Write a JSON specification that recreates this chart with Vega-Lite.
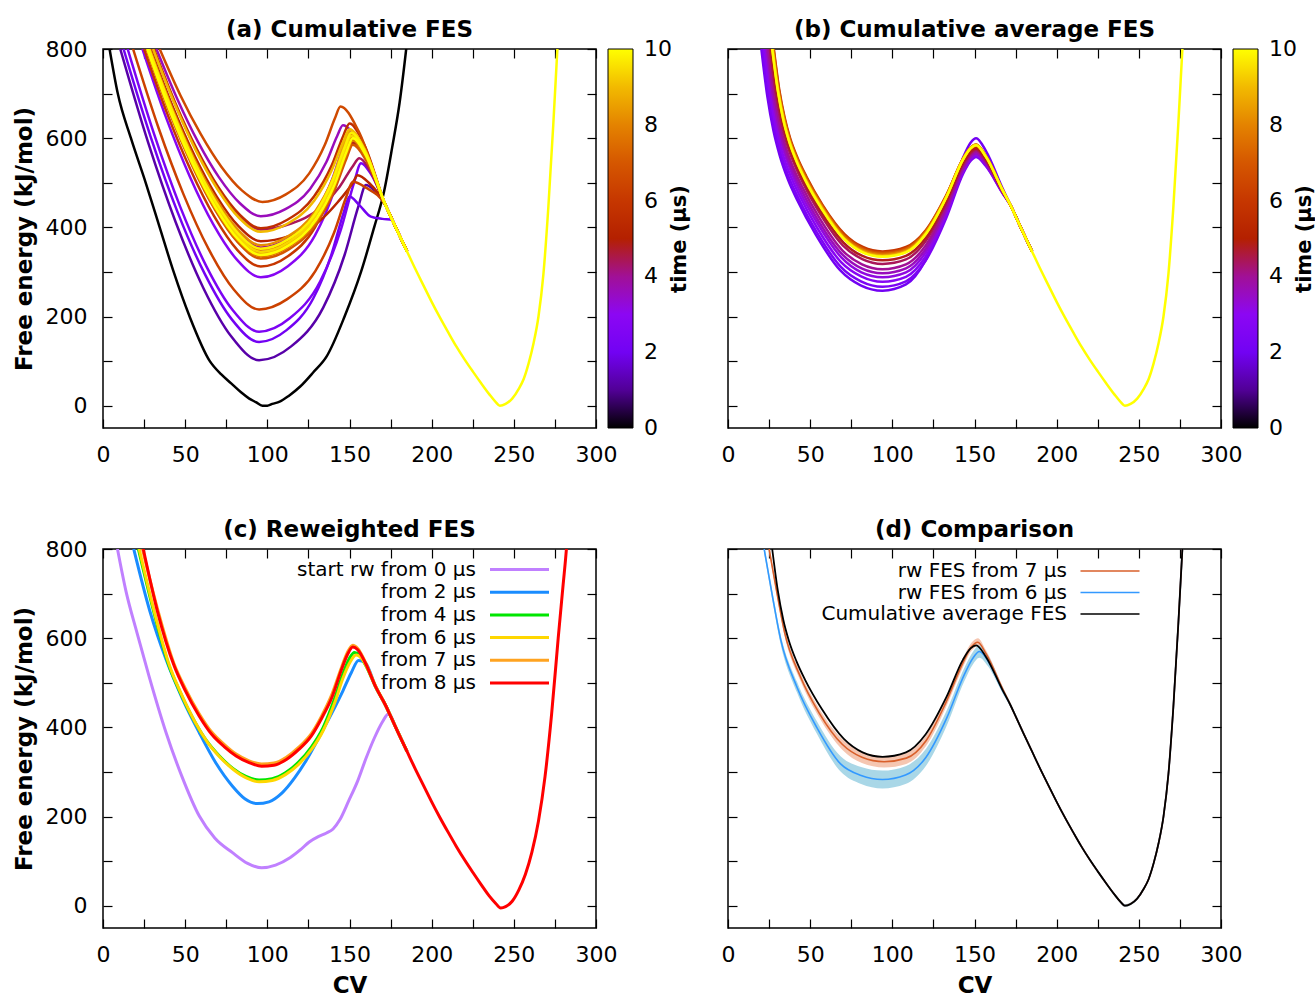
{
  "$schema": "https://vega.github.io/schema/vega-lite/v6.json",
  "background": "white",
  "padding": {"left": 12, "top": 18, "right": 0, "bottom": 0},
  "config": {
    "font": "DejaVu Sans",
    "view": {"stroke": "black", "strokeWidth": 1.5},
    "axis": {"domain": false, "grid": false, "tickColor": "black", "tickSize": -9, "tickWidth": 1.2, "labelFont": "DejaVu Sans", "labelFontSize": 22, "labelColor": "black", "labelFlush": false, "labelOverlap": false, "labelPadding": 25, "titleFont": "DejaVu Sans", "titleFontSize": 23, "titleFontWeight": "bold", "titleColor": "black", "titlePadding": 9},
    "title": {"font": "DejaVu Sans", "fontSize": 23, "fontWeight": "bold", "color": "black", "frame": "group"},
    "legend": {"labelFont": "DejaVu Sans", "titleFont": "DejaVu Sans", "labelColor": "black", "titleColor": "black"}
  },
  "datasets": {
    "a": [
      {"t":0,"x":4,"y":800},{"t":0,"x":9,"y":700},{"t":0,"x":17,"y":600},{"t":0,"x":26,"y":500},{"t":0,"x":34.5,"y":400},{"t":0,"x":43,"y":300},{"t":0,"x":52.7,"y":200},{"t":0,"x":65,"y":100},{"t":0,"x":72,"y":70},{"t":0,"x":78,"y":50},{"t":0,"x":84,"y":30},{"t":0,"x":89,"y":16},{"t":0,"x":93,"y":8},{"t":0,"x":97,"y":0},{"t":0,"x":100,"y":0},{"t":0,"x":103,"y":4},{"t":0,"x":107.5,"y":9},{"t":0,"x":113,"y":22},{"t":0,"x":120,"y":43},{"t":0,"x":128,"y":75},{"t":0,"x":136,"y":110},{"t":0,"x":147,"y":200},{"t":0,"x":157,"y":300},{"t":0,"x":165,"y":400},{"t":0,"x":171,"y":480},{"t":0,"x":176,"y":580},{"t":0,"x":180.5,"y":680},{"t":0,"x":184.5,"y":800},{"t":0,"x":186,"y":850},
      {"t":1.2,"x":10.5,"y":800},{"t":1.2,"x":27.4,"y":591},{"t":1.2,"x":44.3,"y":411},{"t":1.2,"x":61.2,"y":263},{"t":1.2,"x":78.1,"y":155},{"t":1.2,"x":95,"y":102},{"t":1.2,"x":114.5,"y":133},{"t":1.2,"x":134,"y":220},{"t":1.2,"x":147,"y":338},{"t":1.2,"x":155.5,"y":448},{"t":1.2,"x":160,"y":495},{"t":1.2,"x":164.8,"y":484},{"t":1.2,"x":172,"y":449},{"t":1.2,"x":178,"y":401},{"t":1.2,"x":185,"y":346},
      {"t":2,"x":12.5,"y":800},{"t":2,"x":29,"y":603},{"t":2,"x":45.5,"y":433},{"t":2,"x":62,"y":295},{"t":2,"x":78.5,"y":193},{"t":2,"x":95,"y":143},{"t":2,"x":111.5,"y":169},{"t":2,"x":128,"y":241},{"t":2,"x":139,"y":339},{"t":2,"x":146.2,"y":430},{"t":2,"x":150,"y":469},{"t":2,"x":156,"y":450},{"t":2,"x":163,"y":424},{"t":2,"x":170,"y":419},{"t":2,"x":176,"y":417},{"t":2,"x":178,"y":401},{"t":2,"x":185,"y":346},
      {"t":2.4,"x":15,"y":800},{"t":2.4,"x":31,"y":610},{"t":2.4,"x":47,"y":446},{"t":2.4,"x":63,"y":312},{"t":2.4,"x":79,"y":214},{"t":2.4,"x":95,"y":166},{"t":2.4,"x":113.6,"y":196},{"t":2.4,"x":132.2,"y":279},{"t":2.4,"x":144.6,"y":393},{"t":2.4,"x":152.7,"y":499},{"t":2.4,"x":157,"y":544},{"t":2.4,"x":163,"y":520},{"t":2.4,"x":172,"y":449},{"t":2.4,"x":178,"y":401},{"t":2.4,"x":185,"y":346},
      {"t":2.8,"x":24,"y":800},{"t":2.8,"x":38.4,"y":646},{"t":2.8,"x":52.8,"y":514},{"t":2.8,"x":67.2,"y":406},{"t":2.8,"x":81.6,"y":327},{"t":2.8,"x":96,"y":288},{"t":2.8,"x":112.5,"y":313},{"t":2.8,"x":129,"y":382},{"t":2.8,"x":140,"y":475},{"t":2.8,"x":147.2,"y":563},{"t":2.8,"x":151,"y":600},{"t":2.8,"x":159.4,"y":562},{"t":2.8,"x":172,"y":449},{"t":2.8,"x":178,"y":401},{"t":2.8,"x":185,"y":346},
      {"t":3.2,"x":27,"y":800},{"t":3.2,"x":40.8,"y":664},{"t":3.2,"x":54.6,"y":546},{"t":3.2,"x":68.4,"y":450},{"t":3.2,"x":82.2,"y":380},{"t":3.2,"x":96,"y":345},{"t":3.2,"x":112.2,"y":366},{"t":3.2,"x":128.4,"y":425},{"t":3.2,"x":139.2,"y":505},{"t":3.2,"x":146.2,"y":580},{"t":3.2,"x":150,"y":612},{"t":3.2,"x":158.8,"y":571},{"t":3.2,"x":172,"y":449},{"t":3.2,"x":178,"y":401},{"t":3.2,"x":185,"y":346},
      {"t":3.6,"x":32.5,"y":800},{"t":3.6,"x":45.2,"y":688},{"t":3.6,"x":57.9,"y":591},{"t":3.6,"x":70.6,"y":512},{"t":3.6,"x":83.3,"y":454},{"t":3.6,"x":96,"y":425},{"t":3.6,"x":111,"y":441},{"t":3.6,"x":126,"y":486},{"t":3.6,"x":136,"y":547},{"t":3.6,"x":142.5,"y":605},{"t":3.6,"x":146,"y":629},{"t":3.6,"x":156.4,"y":584},{"t":3.6,"x":172,"y":449},{"t":3.6,"x":178,"y":401},{"t":3.6,"x":185,"y":346},
      {"t":4,"x":28,"y":800},{"t":4,"x":41.6,"y":667},{"t":4,"x":55.2,"y":552},{"t":4,"x":68.8,"y":458},{"t":4,"x":82.4,"y":389},{"t":4,"x":96,"y":355},{"t":4,"x":112.5,"y":375},{"t":4,"x":129,"y":429},{"t":4,"x":140,"y":502},{"t":4,"x":147.2,"y":571},{"t":4,"x":151,"y":600},{"t":4,"x":159.4,"y":562},{"t":4,"x":172,"y":449},{"t":4,"x":178,"y":401},{"t":4,"x":185,"y":346},
      {"t":4.4,"x":30.5,"y":800},{"t":4.4,"x":43.6,"y":679},{"t":4.4,"x":56.7,"y":574},{"t":4.4,"x":69.8,"y":489},{"t":4.4,"x":82.9,"y":426},{"t":4.4,"x":96,"y":395},{"t":4.4,"x":114,"y":408},{"t":4.4,"x":132,"y":443},{"t":4.4,"x":144,"y":491},{"t":4.4,"x":151.8,"y":536},{"t":4.4,"x":156,"y":555},{"t":4.4,"x":162.4,"y":528},{"t":4.4,"x":172,"y":449},{"t":4.4,"x":178,"y":401},{"t":4.4,"x":185,"y":346},
      {"t":4.8,"x":27,"y":800},{"t":4.8,"x":40.8,"y":662},{"t":4.8,"x":54.6,"y":543},{"t":4.8,"x":68.4,"y":446},{"t":4.8,"x":82.2,"y":375},{"t":4.8,"x":96,"y":340},{"t":4.8,"x":112.8,"y":360},{"t":4.8,"x":129.6,"y":415},{"t":4.8,"x":140.8,"y":490},{"t":4.8,"x":148.1,"y":560},{"t":4.8,"x":152,"y":590},{"t":4.8,"x":160,"y":555},{"t":4.8,"x":172,"y":449},{"t":4.8,"x":178,"y":401},{"t":4.8,"x":185,"y":346},
      {"t":5.2,"x":29,"y":800},{"t":5.2,"x":42.4,"y":671},{"t":5.2,"x":55.8,"y":560},{"t":5.2,"x":69.2,"y":469},{"t":5.2,"x":82.6,"y":402},{"t":5.2,"x":96,"y":369},{"t":5.2,"x":113.7,"y":381},{"t":5.2,"x":131.4,"y":413},{"t":5.2,"x":143.2,"y":458},{"t":5.2,"x":151.9,"y":499},{"t":5.2,"x":155,"y":517},{"t":5.2,"x":161.8,"y":500},{"t":5.2,"x":172,"y":449},{"t":5.2,"x":178,"y":401},{"t":5.2,"x":185,"y":346},
      {"t":5.6,"x":31,"y":800},{"t":5.6,"x":44,"y":679},{"t":5.6,"x":57,"y":576},{"t":5.6,"x":70,"y":491},{"t":5.6,"x":83,"y":429},{"t":5.6,"x":96,"y":398},{"t":5.6,"x":112.2,"y":417},{"t":5.6,"x":128.4,"y":469},{"t":5.6,"x":139.2,"y":539},{"t":5.6,"x":146.2,"y":605},{"t":5.6,"x":150,"y":633},{"t":5.6,"x":158.8,"y":587},{"t":5.6,"x":172,"y":449},{"t":5.6,"x":178,"y":401},{"t":5.6,"x":185,"y":346},
      {"t":6,"x":25,"y":800},{"t":6,"x":39.2,"y":654},{"t":6,"x":53.4,"y":528},{"t":6,"x":67.6,"y":425},{"t":6,"x":81.8,"y":349},{"t":6,"x":96,"y":312},{"t":6,"x":112.5,"y":335},{"t":6,"x":129,"y":400},{"t":6,"x":140,"y":488},{"t":6,"x":147.2,"y":570},{"t":6,"x":151,"y":605},{"t":6,"x":159.4,"y":566},{"t":6,"x":172,"y":449},{"t":6,"x":178,"y":401},{"t":6,"x":185,"y":346},
      {"t":6.3,"x":18.3,"y":800},{"t":6.3,"x":33.6,"y":625},{"t":6.3,"x":49,"y":474},{"t":6.3,"x":64.3,"y":351},{"t":6.3,"x":79.7,"y":260},{"t":6.3,"x":95,"y":216},{"t":6.3,"x":112.1,"y":239},{"t":6.3,"x":129.2,"y":302},{"t":6.3,"x":140.6,"y":388},{"t":6.3,"x":148,"y":468},{"t":6.3,"x":152,"y":502},{"t":6.3,"x":160,"y":489},{"t":6.3,"x":172,"y":449},{"t":6.3,"x":178,"y":401},{"t":6.3,"x":185,"y":346},
      {"t":6.6,"x":34.5,"y":800},{"t":6.6,"x":47,"y":697},{"t":6.6,"x":59.5,"y":609},{"t":6.6,"x":72,"y":536},{"t":6.6,"x":84.5,"y":483},{"t":6.6,"x":97,"y":457},{"t":6.6,"x":111.3,"y":474},{"t":6.6,"x":125.5,"y":521},{"t":6.6,"x":135,"y":585},{"t":6.6,"x":141.2,"y":645},{"t":6.6,"x":144.5,"y":671},{"t":6.6,"x":155.5,"y":616},{"t":6.6,"x":172,"y":449},{"t":6.6,"x":178,"y":401},{"t":6.6,"x":185,"y":346},
      {"t":7,"x":26.5,"y":800},{"t":7,"x":40.4,"y":659},{"t":7,"x":54.3,"y":538},{"t":7,"x":68.2,"y":439},{"t":7,"x":82.1,"y":366},{"t":7,"x":96,"y":330},{"t":7,"x":112.8,"y":350},{"t":7,"x":129.6,"y":407},{"t":7,"x":140.8,"y":483},{"t":7,"x":148.1,"y":554},{"t":7,"x":152,"y":585},{"t":7,"x":160,"y":551},{"t":7,"x":172,"y":449},{"t":7,"x":178,"y":401},{"t":7,"x":185,"y":346},
      {"t":7.4,"x":27.5,"y":800},{"t":7.4,"x":41.2,"y":665},{"t":7.4,"x":54.9,"y":549},{"t":7.4,"x":68.6,"y":454},{"t":7.4,"x":82.3,"y":384},{"t":7.4,"x":96,"y":350},{"t":7.4,"x":112.5,"y":370},{"t":7.4,"x":129,"y":425},{"t":7.4,"x":140,"y":500},{"t":7.4,"x":147.2,"y":570},{"t":7.4,"x":151,"y":600},{"t":7.4,"x":159.4,"y":562},{"t":7.4,"x":172,"y":449},{"t":7.4,"x":178,"y":401},{"t":7.4,"x":185,"y":346},
      {"t":7.8,"x":26.8,"y":800},{"t":7.8,"x":40.6,"y":660},{"t":7.8,"x":54.5,"y":540},{"t":7.8,"x":68.3,"y":442},{"t":7.8,"x":82.2,"y":370},{"t":7.8,"x":96,"y":335},{"t":7.8,"x":112.8,"y":356},{"t":7.8,"x":129.6,"y":413},{"t":7.8,"x":140.8,"y":491},{"t":7.8,"x":148.1,"y":564},{"t":7.8,"x":152,"y":595},{"t":7.8,"x":160,"y":559},{"t":7.8,"x":172,"y":449},{"t":7.8,"x":178,"y":401},{"t":7.8,"x":185,"y":346},
      {"t":8.2,"x":28.5,"y":800},{"t":8.2,"x":42,"y":668},{"t":8.2,"x":55.5,"y":554},{"t":8.2,"x":69,"y":462},{"t":8.2,"x":82.5,"y":393},{"t":8.2,"x":96,"y":360},{"t":8.2,"x":112.5,"y":380},{"t":8.2,"x":129,"y":435},{"t":8.2,"x":140,"y":510},{"t":8.2,"x":147.2,"y":580},{"t":8.2,"x":151,"y":610},{"t":8.2,"x":159.4,"y":570},{"t":8.2,"x":172,"y":449},{"t":8.2,"x":178,"y":401},{"t":8.2,"x":185,"y":346},
      {"t":8.6,"x":27,"y":800},{"t":8.6,"x":40.8,"y":662},{"t":8.6,"x":54.6,"y":543},{"t":8.6,"x":68.4,"y":446},{"t":8.6,"x":82.2,"y":375},{"t":8.6,"x":96,"y":340},{"t":8.6,"x":112.4,"y":362},{"t":8.6,"x":128.7,"y":423},{"t":8.6,"x":139.6,"y":507},{"t":8.6,"x":146.7,"y":585},{"t":8.6,"x":150.5,"y":618},{"t":8.6,"x":159.1,"y":576},{"t":8.6,"x":172,"y":449},{"t":8.6,"x":178,"y":401},{"t":8.6,"x":185,"y":346},
      {"t":9,"x":30.5,"y":800},{"t":9,"x":43.6,"y":677},{"t":9,"x":56.7,"y":571},{"t":9,"x":69.8,"y":485},{"t":9,"x":82.9,"y":421},{"t":9,"x":96,"y":390},{"t":9,"x":112.2,"y":408},{"t":9,"x":128.4,"y":459},{"t":9,"x":139.2,"y":528},{"t":9,"x":146.2,"y":592},{"t":9,"x":150,"y":620},{"t":9,"x":158.8,"y":577},{"t":9,"x":172,"y":449},{"t":9,"x":178,"y":401},{"t":9,"x":185,"y":346},
      {"t":9.4,"x":27.5,"y":800},{"t":9.4,"x":41.2,"y":664},{"t":9.4,"x":54.9,"y":546},{"t":9.4,"x":68.6,"y":450},{"t":9.4,"x":82.3,"y":380},{"t":9.4,"x":96,"y":345},{"t":9.4,"x":112.5,"y":366},{"t":9.4,"x":129,"y":423},{"t":9.4,"x":140,"y":501},{"t":9.4,"x":147.2,"y":574},{"t":9.4,"x":151,"y":605},{"t":9.4,"x":159.4,"y":566},{"t":9.4,"x":172,"y":449},{"t":9.4,"x":178,"y":401},{"t":9.4,"x":185,"y":346},
      {"t":9.8,"x":28,"y":800},{"t":9.8,"x":41.6,"y":666},{"t":9.8,"x":55.2,"y":550},{"t":9.8,"x":68.8,"y":456},{"t":9.8,"x":82.4,"y":386},{"t":9.8,"x":96,"y":352},{"t":9.8,"x":112.5,"y":373},{"t":9.8,"x":129,"y":430},{"t":9.8,"x":140,"y":508},{"t":9.8,"x":147.2,"y":581},{"t":9.8,"x":151,"y":612},{"t":9.8,"x":159.4,"y":571},{"t":9.8,"x":172,"y":449},{"t":9.8,"x":178,"y":401},{"t":9.8,"x":185,"y":346},
      {"t":10,"x":27,"y":800},{"t":10,"x":40.8,"y":661},{"t":10,"x":54.6,"y":542},{"t":10,"x":68.4,"y":445},{"t":10,"x":82.2,"y":373},{"t":10,"x":96,"y":338},{"t":10,"x":112.8,"y":359},{"t":10,"x":129.6,"y":417},{"t":10,"x":140.8,"y":495},{"t":10,"x":148.1,"y":569},{"t":10,"x":152,"y":600},{"t":10,"x":160,"y":562},{"t":10,"x":172,"y":449},{"t":10,"x":175,"y":425},{"t":10,"x":180,"y":385},{"t":10,"x":185,"y":346},{"t":10,"x":190,"y":307},{"t":10,"x":195,"y":270},{"t":10,"x":200,"y":233},{"t":10,"x":205,"y":198},{"t":10,"x":210,"y":165},{"t":10,"x":215,"y":133},{"t":10,"x":220,"y":104},{"t":10,"x":225,"y":77},{"t":10,"x":230,"y":51},{"t":10,"x":235,"y":26},{"t":10,"x":239,"y":8},{"t":10,"x":241.5,"y":0},{"t":10,"x":245,"y":4},{"t":10,"x":249,"y":16},{"t":10,"x":253,"y":38},{"t":10,"x":256,"y":60},{"t":10,"x":259,"y":95},{"t":10,"x":262,"y":140},{"t":10,"x":265,"y":200},{"t":10,"x":268,"y":295},{"t":10,"x":271,"y":445},{"t":10,"x":274,"y":630},{"t":10,"x":276.5,"y":800},{"t":10,"x":278,"y":900}
    ],
    "b": [
      {"t":2,"x":20.3,"y":800},{"t":2,"x":24,"y":692},{"t":2,"x":27.7,"y":616},{"t":2,"x":31.4,"y":562},{"t":2,"x":36.5,"y":507},{"t":2,"x":42.4,"y":459},{"t":2,"x":53.5,"y":383},{"t":2,"x":68.2,"y":304},{"t":2,"x":80.7,"y":270},{"t":2,"x":94,"y":258},{"t":2,"x":108.3,"y":272},{"t":2,"x":120.2,"y":326},{"t":2,"x":132.8,"y":439},{"t":2,"x":143,"y":556},{"t":2,"x":147.6,"y":590},{"t":2,"x":151,"y":600},{"t":2,"x":157,"y":571},{"t":2,"x":167,"y":488},{"t":2,"x":172,"y":449},{"t":2,"x":178,"y":401},{"t":2,"x":185,"y":346},
      {"t":2.4,"x":21.1,"y":800},{"t":2.4,"x":24.7,"y":693},{"t":2.4,"x":28.4,"y":619},{"t":2.4,"x":32,"y":566},{"t":2.4,"x":37.1,"y":512},{"t":2.4,"x":43,"y":464},{"t":2.4,"x":53.9,"y":390},{"t":2.4,"x":68.5,"y":312},{"t":2.4,"x":80.9,"y":279},{"t":2.4,"x":94,"y":267},{"t":2.4,"x":108.3,"y":279},{"t":2.4,"x":120.2,"y":325},{"t":2.4,"x":132.8,"y":421},{"t":2.4,"x":143,"y":520},{"t":2.4,"x":147.6,"y":549},{"t":2.4,"x":151,"y":558},{"t":2.4,"x":157,"y":537},{"t":2.4,"x":167,"y":477},{"t":2.4,"x":172,"y":449},{"t":2.4,"x":178,"y":401},{"t":2.4,"x":185,"y":346},
      {"t":2.8,"x":22,"y":800},{"t":2.8,"x":25.6,"y":696},{"t":2.8,"x":29.2,"y":623},{"t":2.8,"x":32.8,"y":570},{"t":2.8,"x":37.8,"y":518},{"t":2.8,"x":43.6,"y":471},{"t":2.8,"x":54.4,"y":398},{"t":2.8,"x":68.8,"y":322},{"t":2.8,"x":81,"y":290},{"t":2.8,"x":94,"y":278},{"t":2.8,"x":108.3,"y":289},{"t":2.8,"x":120.2,"y":334},{"t":2.8,"x":132.8,"y":428},{"t":2.8,"x":143,"y":523},{"t":2.8,"x":147.6,"y":552},{"t":2.8,"x":151,"y":560},{"t":2.8,"x":157,"y":539},{"t":2.8,"x":167,"y":478},{"t":2.8,"x":172,"y":449},{"t":2.8,"x":178,"y":401},{"t":2.8,"x":185,"y":346},
      {"t":3.2,"x":22.9,"y":800},{"t":3.2,"x":26.5,"y":698},{"t":3.2,"x":30,"y":626},{"t":3.2,"x":33.6,"y":575},{"t":3.2,"x":38.5,"y":524},{"t":3.2,"x":44.2,"y":477},{"t":3.2,"x":54.9,"y":406},{"t":3.2,"x":69.1,"y":332},{"t":3.2,"x":81.2,"y":299},{"t":3.2,"x":94,"y":288},{"t":3.2,"x":108.3,"y":299},{"t":3.2,"x":120.2,"y":343},{"t":3.2,"x":132.8,"y":434},{"t":3.2,"x":143,"y":527},{"t":3.2,"x":147.6,"y":555},{"t":3.2,"x":151,"y":563},{"t":3.2,"x":157,"y":541},{"t":3.2,"x":167,"y":479},{"t":3.2,"x":172,"y":449},{"t":3.2,"x":178,"y":401},{"t":3.2,"x":185,"y":346},
      {"t":3.6,"x":23.7,"y":800},{"t":3.6,"x":27.2,"y":699},{"t":3.6,"x":30.7,"y":629},{"t":3.6,"x":34.2,"y":579},{"t":3.6,"x":39.2,"y":528},{"t":3.6,"x":44.8,"y":483},{"t":3.6,"x":55.3,"y":413},{"t":3.6,"x":69.4,"y":340},{"t":3.6,"x":81.3,"y":308},{"t":3.6,"x":94,"y":297},{"t":3.6,"x":108.3,"y":308},{"t":3.6,"x":120.2,"y":351},{"t":3.6,"x":132.8,"y":440},{"t":3.6,"x":143,"y":531},{"t":3.6,"x":147.6,"y":558},{"t":3.6,"x":151,"y":566},{"t":3.6,"x":157,"y":544},{"t":3.6,"x":167,"y":479},{"t":3.6,"x":172,"y":449},{"t":3.6,"x":178,"y":401},{"t":3.6,"x":185,"y":346},
      {"t":4,"x":24.5,"y":800},{"t":4,"x":28,"y":701},{"t":4,"x":31.5,"y":632},{"t":4,"x":34.9,"y":583},{"t":4,"x":39.8,"y":533},{"t":4,"x":45.4,"y":489},{"t":4,"x":55.8,"y":420},{"t":4,"x":69.7,"y":348},{"t":4,"x":81.5,"y":317},{"t":4,"x":94,"y":306},{"t":4,"x":108.3,"y":317},{"t":4,"x":120.2,"y":359},{"t":4,"x":132.8,"y":446},{"t":4,"x":143,"y":536},{"t":4,"x":147.6,"y":562},{"t":4,"x":151,"y":570},{"t":4,"x":157,"y":547},{"t":4,"x":167,"y":480},{"t":4,"x":172,"y":449},{"t":4,"x":178,"y":401},{"t":4,"x":185,"y":346},
      {"t":4.4,"x":25.5,"y":800},{"t":4.4,"x":28.9,"y":704},{"t":4.4,"x":32.4,"y":636},{"t":4.4,"x":35.8,"y":588},{"t":4.4,"x":40.6,"y":540},{"t":4.4,"x":46.1,"y":496},{"t":4.4,"x":56.3,"y":429},{"t":4.4,"x":70,"y":359},{"t":4.4,"x":81.7,"y":329},{"t":4.4,"x":94,"y":318},{"t":4.4,"x":108.3,"y":328},{"t":4.4,"x":120.2,"y":369},{"t":4.4,"x":132.8,"y":454},{"t":4.4,"x":143,"y":541},{"t":4.4,"x":147.6,"y":566},{"t":4.4,"x":151,"y":574},{"t":4.4,"x":157,"y":550},{"t":4.4,"x":167,"y":482},{"t":4.4,"x":172,"y":449},{"t":4.4,"x":178,"y":401},{"t":4.4,"x":185,"y":346},
      {"t":4.8,"x":26.2,"y":800},{"t":4.8,"x":29.6,"y":705},{"t":4.8,"x":33,"y":639},{"t":4.8,"x":36.4,"y":591},{"t":4.8,"x":41.1,"y":544},{"t":4.8,"x":46.5,"y":501},{"t":4.8,"x":56.7,"y":435},{"t":4.8,"x":70.3,"y":366},{"t":4.8,"x":81.8,"y":336},{"t":4.8,"x":94,"y":326},{"t":4.8,"x":108.3,"y":336},{"t":4.8,"x":120.2,"y":376},{"t":4.8,"x":132.8,"y":459},{"t":4.8,"x":143,"y":544},{"t":4.8,"x":147.6,"y":570},{"t":4.8,"x":151,"y":577},{"t":4.8,"x":157,"y":553},{"t":4.8,"x":167,"y":482},{"t":4.8,"x":172,"y":449},{"t":4.8,"x":178,"y":401},{"t":4.8,"x":185,"y":346},
      {"t":5.4,"x":27.4,"y":800},{"t":5.4,"x":30.7,"y":708},{"t":5.4,"x":34.1,"y":644},{"t":5.4,"x":37.4,"y":598},{"t":5.4,"x":42.1,"y":552},{"t":5.4,"x":47.4,"y":510},{"t":5.4,"x":57.4,"y":446},{"t":5.4,"x":70.7,"y":379},{"t":5.4,"x":82,"y":350},{"t":5.4,"x":94,"y":340},{"t":5.4,"x":108.3,"y":350},{"t":5.4,"x":120.2,"y":388},{"t":5.4,"x":132.8,"y":468},{"t":5.4,"x":143,"y":550},{"t":5.4,"x":147.6,"y":574},{"t":5.4,"x":151,"y":581},{"t":5.4,"x":157,"y":556},{"t":5.4,"x":167,"y":483},{"t":5.4,"x":172,"y":449},{"t":5.4,"x":178,"y":401},{"t":5.4,"x":185,"y":346},
      {"t":6,"x":27.9,"y":800},{"t":6,"x":31.2,"y":709},{"t":6,"x":34.5,"y":646},{"t":6,"x":37.8,"y":600},{"t":6,"x":42.4,"y":555},{"t":6,"x":47.7,"y":514},{"t":6,"x":57.6,"y":450},{"t":6,"x":70.9,"y":385},{"t":6,"x":82.1,"y":356},{"t":6,"x":94,"y":346},{"t":6,"x":108.3,"y":356},{"t":6,"x":120.2,"y":393},{"t":6,"x":132.8,"y":472},{"t":6,"x":143,"y":552},{"t":6,"x":147.6,"y":576},{"t":6,"x":151,"y":583},{"t":6,"x":157,"y":558},{"t":6,"x":167,"y":484},{"t":6,"x":172,"y":449},{"t":6,"x":178,"y":401},{"t":6,"x":185,"y":346},
      {"t":6.8,"x":27.7,"y":800},{"t":6.8,"x":31,"y":709},{"t":6.8,"x":34.3,"y":645},{"t":6.8,"x":37.6,"y":599},{"t":6.8,"x":42.3,"y":553},{"t":6.8,"x":47.6,"y":512},{"t":6.8,"x":57.5,"y":448},{"t":6.8,"x":70.8,"y":382},{"t":6.8,"x":82.1,"y":353},{"t":6.8,"x":94,"y":343},{"t":6.8,"x":108.3,"y":353},{"t":6.8,"x":120.2,"y":391},{"t":6.8,"x":132.8,"y":471},{"t":6.8,"x":143,"y":554},{"t":6.8,"x":147.6,"y":578},{"t":6.8,"x":151,"y":585},{"t":6.8,"x":157,"y":559},{"t":6.8,"x":167,"y":484},{"t":6.8,"x":172,"y":449},{"t":6.8,"x":178,"y":401},{"t":6.8,"x":185,"y":346},
      {"t":7.6,"x":27.4,"y":800},{"t":7.6,"x":30.7,"y":708},{"t":7.6,"x":34.1,"y":644},{"t":7.6,"x":37.4,"y":598},{"t":7.6,"x":42.1,"y":552},{"t":7.6,"x":47.4,"y":510},{"t":7.6,"x":57.4,"y":446},{"t":7.6,"x":70.7,"y":379},{"t":7.6,"x":82,"y":350},{"t":7.6,"x":94,"y":340},{"t":7.6,"x":108.3,"y":350},{"t":7.6,"x":120.2,"y":389},{"t":7.6,"x":132.8,"y":470},{"t":7.6,"x":143,"y":554},{"t":7.6,"x":147.6,"y":579},{"t":7.6,"x":151,"y":586},{"t":7.6,"x":157,"y":560},{"t":7.6,"x":167,"y":485},{"t":7.6,"x":172,"y":449},{"t":7.6,"x":178,"y":401},{"t":7.6,"x":185,"y":346},
      {"t":8.4,"x":27.2,"y":800},{"t":8.4,"x":30.5,"y":707},{"t":8.4,"x":33.9,"y":643},{"t":8.4,"x":37.2,"y":596},{"t":8.4,"x":41.9,"y":550},{"t":8.4,"x":47.2,"y":508},{"t":8.4,"x":57.3,"y":444},{"t":8.4,"x":70.6,"y":376},{"t":8.4,"x":82,"y":347},{"t":8.4,"x":94,"y":337},{"t":8.4,"x":108.3,"y":347},{"t":8.4,"x":120.2,"y":387},{"t":8.4,"x":132.8,"y":468},{"t":8.4,"x":143,"y":553},{"t":8.4,"x":147.6,"y":578},{"t":8.4,"x":151,"y":585},{"t":8.4,"x":157,"y":559},{"t":8.4,"x":167,"y":484},{"t":8.4,"x":172,"y":449},{"t":8.4,"x":178,"y":401},{"t":8.4,"x":185,"y":346},
      {"t":9.2,"x":27,"y":800},{"t":9.2,"x":30.4,"y":707},{"t":9.2,"x":33.7,"y":642},{"t":9.2,"x":37.1,"y":595},{"t":9.2,"x":41.7,"y":549},{"t":9.2,"x":47.1,"y":507},{"t":9.2,"x":57.2,"y":442},{"t":9.2,"x":70.6,"y":375},{"t":9.2,"x":81.9,"y":345},{"t":9.2,"x":94,"y":335},{"t":9.2,"x":108.3,"y":345},{"t":9.2,"x":120.2,"y":385},{"t":9.2,"x":132.8,"y":467},{"t":9.2,"x":143,"y":552},{"t":9.2,"x":147.6,"y":577},{"t":9.2,"x":151,"y":584},{"t":9.2,"x":157,"y":558},{"t":9.2,"x":167,"y":484},{"t":9.2,"x":172,"y":449},{"t":9.2,"x":178,"y":401},{"t":9.2,"x":185,"y":346},
      {"t":10,"x":26.9,"y":800},{"t":10,"x":30.3,"y":707},{"t":10,"x":33.6,"y":642},{"t":10,"x":37,"y":595},{"t":10,"x":41.7,"y":548},{"t":10,"x":47,"y":506},{"t":10,"x":57.1,"y":441},{"t":10,"x":70.5,"y":374},{"t":10,"x":81.9,"y":344},{"t":10,"x":94,"y":334},{"t":10,"x":108.3,"y":344},{"t":10,"x":120.2,"y":384},{"t":10,"x":132.8,"y":467},{"t":10,"x":143,"y":552},{"t":10,"x":147.6,"y":577},{"t":10,"x":151,"y":584},{"t":10,"x":157,"y":558},{"t":10,"x":167,"y":484},{"t":10,"x":172,"y":449},{"t":10,"x":175,"y":425},{"t":10,"x":180,"y":385},{"t":10,"x":185,"y":346},{"t":10,"x":190,"y":307},{"t":10,"x":195,"y":270},{"t":10,"x":200,"y":233},{"t":10,"x":205,"y":198},{"t":10,"x":210,"y":165},{"t":10,"x":215,"y":133},{"t":10,"x":220,"y":104},{"t":10,"x":225,"y":77},{"t":10,"x":230,"y":51},{"t":10,"x":235,"y":26},{"t":10,"x":239,"y":8},{"t":10,"x":241.5,"y":0},{"t":10,"x":245,"y":4},{"t":10,"x":249,"y":16},{"t":10,"x":253,"y":38},{"t":10,"x":256,"y":60},{"t":10,"x":259,"y":95},{"t":10,"x":262,"y":140},{"t":10,"x":265,"y":200},{"t":10,"x":268,"y":295},{"t":10,"x":271,"y":445},{"t":10,"x":274,"y":630},{"t":10,"x":276.5,"y":800},{"t":10,"x":278,"y":900}
    ],
    "c": [
      {"s":"0","x":8.8,"y":800},{"s":"0","x":14,"y":705},{"s":"0","x":20.7,"y":612},{"s":"0","x":28,"y":515},{"s":"0","x":38.4,"y":388},{"s":"0","x":48,"y":290},{"s":"0","x":58.6,"y":201},{"s":"0","x":68,"y":152},{"s":"0","x":78.8,"y":119},{"s":"0","x":88,"y":95},{"s":"0","x":96.5,"y":85},{"s":"0","x":105,"y":91},{"s":"0","x":114,"y":108},{"s":"0","x":120,"y":125},{"s":"0","x":125.5,"y":143},{"s":"0","x":131,"y":155},{"s":"0","x":136,"y":163},{"s":"0","x":140,"y":172},{"s":"0","x":144,"y":192},{"s":"0","x":149.5,"y":235},{"s":"0","x":155,"y":280},{"s":"0","x":160,"y":330},{"s":"0","x":165,"y":375},{"s":"0","x":170,"y":412},{"s":"0","x":174,"y":431},{"s":"0","x":178,"y":401},{"s":"0","x":185,"y":346},
      {"s":"2","x":18.7,"y":800},{"s":"2","x":28.5,"y":661},{"s":"2","x":38.4,"y":552},{"s":"2","x":48.5,"y":463},{"s":"2","x":58.6,"y":388},{"s":"2","x":68.7,"y":320},{"s":"2","x":78.8,"y":268},{"s":"2","x":86.3,"y":240},{"s":"2","x":94,"y":229},{"s":"2","x":101,"y":233},{"s":"2","x":109,"y":253},{"s":"2","x":116.5,"y":286},{"s":"2","x":124,"y":328},{"s":"2","x":131.5,"y":378},{"s":"2","x":139.4,"y":433},{"s":"2","x":146,"y":482},{"s":"2","x":151,"y":522},{"s":"2","x":155.5,"y":550},{"s":"2","x":159.6,"y":545},{"s":"2","x":166,"y":490},{"s":"2","x":172,"y":449},{"s":"2","x":178,"y":401},{"s":"2","x":185,"y":346},
      {"s":"4","x":21.5,"y":800},{"s":"4","x":30,"y":672},{"s":"4","x":40,"y":540},{"s":"4","x":47,"y":478},{"s":"4","x":55.5,"y":415},{"s":"4","x":63,"y":370},{"s":"4","x":71,"y":335},{"s":"4","x":79,"y":308},{"s":"4","x":87,"y":290},{"s":"4","x":95,"y":282},{"s":"4","x":103,"y":285},{"s":"4","x":111,"y":298},{"s":"4","x":119,"y":322},{"s":"4","x":127,"y":357},{"s":"4","x":134,"y":400},{"s":"4","x":141,"y":465},{"s":"4","x":146,"y":520},{"s":"4","x":150,"y":555},{"s":"4","x":153,"y":568},{"s":"4","x":156,"y":562},{"s":"4","x":160,"y":538},{"s":"4","x":166,"y":490},{"s":"4","x":172,"y":449},{"s":"4","x":178,"y":401},{"s":"4","x":185,"y":346},
      {"s":"6","x":22,"y":800},{"s":"6","x":30.5,"y":670},{"s":"6","x":40.5,"y":538},{"s":"6","x":47.5,"y":476},{"s":"6","x":56,"y":412},{"s":"6","x":63.5,"y":367},{"s":"6","x":71.5,"y":332},{"s":"6","x":79.5,"y":305},{"s":"6","x":87.5,"y":286},{"s":"6","x":95,"y":278},{"s":"6","x":103,"y":281},{"s":"6","x":111,"y":294},{"s":"6","x":119,"y":317},{"s":"6","x":127,"y":351},{"s":"6","x":134,"y":393},{"s":"6","x":141,"y":455},{"s":"6","x":146,"y":510},{"s":"6","x":150.5,"y":547},{"s":"6","x":154,"y":562},{"s":"6","x":157,"y":556},{"s":"6","x":161,"y":532},{"s":"6","x":166,"y":490},{"s":"6","x":172,"y":449},{"s":"6","x":178,"y":401},{"s":"6","x":185,"y":346},
      {"s":"7","x":24,"y":800},{"s":"7","x":33,"y":668},{"s":"7","x":43.4,"y":541},{"s":"7","x":50,"y":488},{"s":"7","x":58.6,"y":430},{"s":"7","x":66,"y":390},{"s":"7","x":73.7,"y":362},{"s":"7","x":81,"y":340},{"s":"7","x":88.9,"y":325},{"s":"7","x":96.5,"y":318},{"s":"7","x":104,"y":320},{"s":"7","x":111.6,"y":333},{"s":"7","x":119,"y":355},{"s":"7","x":126.8,"y":386},{"s":"7","x":133,"y":425},{"s":"7","x":139.4,"y":475},{"s":"7","x":145,"y":533},{"s":"7","x":149,"y":570},{"s":"7","x":152,"y":584},{"s":"7","x":155,"y":577},{"s":"7","x":159.6,"y":547},{"s":"7","x":166,"y":492},{"s":"7","x":172,"y":449},{"s":"7","x":178,"y":401},{"s":"7","x":185,"y":346},
      {"s":"8","x":24.5,"y":800},{"s":"8","x":33,"y":662},{"s":"8","x":43.4,"y":537},{"s":"8","x":50,"y":483},{"s":"8","x":58.6,"y":425},{"s":"8","x":66,"y":385},{"s":"8","x":73.7,"y":357},{"s":"8","x":81,"y":336},{"s":"8","x":88.9,"y":321},{"s":"8","x":96.5,"y":313},{"s":"8","x":104,"y":315},{"s":"8","x":111.6,"y":328},{"s":"8","x":119,"y":350},{"s":"8","x":126.8,"y":381},{"s":"8","x":133,"y":420},{"s":"8","x":139.4,"y":468},{"s":"8","x":145,"y":528},{"s":"8","x":149,"y":565},{"s":"8","x":152,"y":580},{"s":"8","x":155,"y":574},{"s":"8","x":159.6,"y":545},{"s":"8","x":166,"y":490},{"s":"8","x":172,"y":449},{"s":"8","x":175,"y":425},{"s":"8","x":180,"y":385},{"s":"8","x":185,"y":346},{"s":"8","x":190,"y":307},{"s":"8","x":195,"y":270},{"s":"8","x":200,"y":233},{"s":"8","x":205,"y":198},{"s":"8","x":210,"y":165},{"s":"8","x":215,"y":133},{"s":"8","x":220,"y":103},{"s":"8","x":225,"y":75},{"s":"8","x":230,"y":48},{"s":"8","x":235,"y":22},{"s":"8","x":239,"y":5},{"s":"8","x":242,"y":-5},{"s":"8","x":245,"y":-2},{"s":"8","x":249,"y":10},{"s":"8","x":253,"y":35},{"s":"8","x":257,"y":70},{"s":"8","x":261,"y":120},{"s":"8","x":265,"y":190},{"s":"8","x":269,"y":290},{"s":"8","x":273,"y":430},{"s":"8","x":277,"y":600},{"s":"8","x":280,"y":720},{"s":"8","x":282,"y":800},{"s":"8","x":283.5,"y":880}
    ],
    "d": [
      {"s":"7","x":25,"y":800,"lo":792,"hi":808},{"s":"7","x":29.5,"y":707,"lo":700,"hi":714},{"s":"7","x":34.5,"y":612,"lo":604,"hi":620},{"s":"7","x":44,"y":514,"lo":505,"hi":523},{"s":"7","x":55.5,"y":432,"lo":422,"hi":442},{"s":"7","x":69.5,"y":362,"lo":350,"hi":374},{"s":"7","x":81.5,"y":333,"lo":320,"hi":346},{"s":"7","x":95,"y":323,"lo":310,"hi":336},{"s":"7","x":108.5,"y":331,"lo":318,"hi":344},{"s":"7","x":120.5,"y":370,"lo":358,"hi":382},{"s":"7","x":132.5,"y":455,"lo":444,"hi":466},{"s":"7","x":143,"y":545,"lo":535,"hi":555},{"s":"7","x":148,"y":580,"lo":571,"hi":589},{"s":"7","x":152,"y":591,"lo":582,"hi":600},{"s":"7","x":157,"y":565,"lo":557,"hi":573},{"s":"7","x":167,"y":487,"lo":481,"hi":493},{"s":"7","x":172,"y":449,"lo":444,"hi":454},{"s":"7","x":178,"y":401,"lo":397,"hi":405},{"s":"7","x":185,"y":346,"lo":343,"hi":349},{"s":"7","x":190,"y":307,"lo":304,"hi":310},{"s":"7","x":200,"y":233,"lo":230,"hi":236},{"s":"7","x":210,"y":165,"lo":162,"hi":168},{"s":"7","x":220,"y":104,"lo":101,"hi":107},{"s":"7","x":230,"y":51,"lo":48,"hi":54},{"s":"7","x":235,"y":26,"lo":23,"hi":29},{"s":"7","x":239,"y":8,"lo":5,"hi":11},{"s":"7","x":241.5,"y":0,"lo":-3,"hi":3},{"s":"7","x":245,"y":4,"lo":1,"hi":7},{"s":"7","x":249,"y":16,"lo":13,"hi":19},{"s":"7","x":253,"y":38,"lo":35,"hi":41},{"s":"7","x":256,"y":60,"lo":57,"hi":63},{"s":"7","x":259,"y":95,"lo":92,"hi":98},{"s":"7","x":262,"y":140,"lo":137,"hi":143},{"s":"7","x":265,"y":200,"lo":197,"hi":203},{"s":"7","x":268,"y":295,"lo":292,"hi":298},{"s":"7","x":271,"y":445,"lo":442,"hi":448},{"s":"7","x":274,"y":630,"lo":627,"hi":633},{"s":"7","x":276.5,"y":800,"lo":797,"hi":803},{"s":"7","x":278,"y":900,"lo":897,"hi":903},
      {"s":"6","x":22,"y":800,"lo":791,"hi":809},{"s":"6","x":27,"y":695,"lo":685,"hi":705},{"s":"6","x":32,"y":598,"lo":587,"hi":609},{"s":"6","x":42,"y":490,"lo":478,"hi":502},{"s":"6","x":54,"y":400,"lo":386,"hi":414},{"s":"6","x":68.5,"y":318,"lo":301,"hi":335},{"s":"6","x":81,"y":292,"lo":273,"hi":311},{"s":"6","x":94,"y":283,"lo":263,"hi":303},{"s":"6","x":108,"y":293,"lo":273,"hi":313},{"s":"6","x":120.5,"y":333,"lo":314,"hi":352},{"s":"6","x":133,"y":420,"lo":403,"hi":437},{"s":"6","x":144,"y":520,"lo":505,"hi":535},{"s":"6","x":149,"y":555,"lo":541,"hi":569},{"s":"6","x":153,"y":570,"lo":556,"hi":584},{"s":"6","x":158,"y":550,"lo":538,"hi":562},{"s":"6","x":167,"y":484,"lo":477,"hi":491},{"s":"6","x":172,"y":449,"lo":444,"hi":454},{"s":"6","x":178,"y":401,"lo":397,"hi":405},{"s":"6","x":185,"y":346,"lo":343,"hi":349},{"s":"6","x":190,"y":307,"lo":304,"hi":310},{"s":"6","x":200,"y":233,"lo":230,"hi":236},{"s":"6","x":210,"y":165,"lo":162,"hi":168},{"s":"6","x":220,"y":104,"lo":101,"hi":107},{"s":"6","x":230,"y":51,"lo":48,"hi":54},{"s":"6","x":235,"y":26,"lo":23,"hi":29},{"s":"6","x":239,"y":8,"lo":5,"hi":11},{"s":"6","x":241.5,"y":0,"lo":-3,"hi":3},{"s":"6","x":245,"y":4,"lo":1,"hi":7},{"s":"6","x":249,"y":16,"lo":13,"hi":19},{"s":"6","x":253,"y":38,"lo":35,"hi":41},{"s":"6","x":256,"y":60,"lo":57,"hi":63},{"s":"6","x":259,"y":95,"lo":92,"hi":98},{"s":"6","x":262,"y":140,"lo":137,"hi":143},{"s":"6","x":265,"y":200,"lo":197,"hi":203},{"s":"6","x":268,"y":295,"lo":292,"hi":298},{"s":"6","x":271,"y":445,"lo":442,"hi":448},{"s":"6","x":274,"y":630,"lo":627,"hi":633},{"s":"6","x":276.5,"y":800,"lo":797,"hi":803},{"s":"6","x":278,"y":900,"lo":897,"hi":903}
    ]
  },
  "columns": 2,
  "spacing": {"row": 121, "column": 132},
  "bounds": "flush",
  "resolve": {"scale": {"color": "independent", "fill": "independent", "x": "independent", "y": "independent"}, "legend": {"color": "independent"}},
  "concat": [
    {
      "width": 493, "height": 379,
      "title": {"text": "(a) Cumulative FES", "offset": -4},
      "layer": [
        {
          "data": {"name": "a"},
          "mark": {"type": "line", "interpolate": "monotone", "strokeWidth": 2.5, "clip": true},
          "encoding": {
            "x": {"field": "x", "type": "quantitative", "scale": {"domain": [0, 300], "nice": false, "zero": false}, "axis": {"values": [0,25,50,75,100,125,150,175,200,225,250,275,300], "labelExpr": "datum.value % 50 == 0 ? datum.label : ''", "title": null}},
            "y": {"field": "y", "type": "quantitative", "scale": {"domain": [-50, 800], "nice": false, "zero": false}, "axis": {"values": [0,100,200,300,400,500,600,700,800], "labelExpr": "datum.value % 200 == 0 ? datum.label : ''", "title": "Free energy (kJ/mol)"}},
            "color": {"field": "t", "type": "quantitative", "scale": {"domain": [0, 10], "interpolate": "rgb", "range": ["#000000","#510096","#7202f3","#8c07f3","#a11096","#b42000","#c63700","#d55700","#e48300","#f2ba00","#ffff00"]},
              "legend": {"orient": "right", "offset": 11, "padding": 0, "direction": "vertical", "gradientLength": 379, "gradientThickness": 25, "gradientStrokeColor": "black", "gradientStrokeWidth": 1, "values": [0,2,4,6,8,10], "labelFontSize": 22, "labelOffset": 11, "labelOverlap": false, "title": "time (µs)", "titleOrient": "right", "titleAnchor": "middle", "titleFontSize": 21, "titleFontWeight": "bold", "titlePadding": -3,
                "encode": {"title": {"update": {"angle": {"value": 270}, "baseline": {"value": "top"}}}, "labels": {"update": {"baseline": {"value": "middle"}}}}}},
            "detail": {"field": "t", "type": "quantitative"}
          }
        },
        {
          "data": {"values": [{}]},
          "mark": {"type": "point", "opacity": 0},
          "encoding": {
            "x": {"datum": 0, "type": "quantitative", "axis": {"orient": "top", "values": [0,25,50,75,100,125,150,175,200,225,250,275,300], "labels": false, "title": null}},
            "y": {"datum": 0, "type": "quantitative", "axis": {"orient": "right", "values": [0,100,200,300,400,500,600,700,800], "labels": false, "title": null}}
          }
        }
      ],
      "resolve": {"axis": {"x": "independent", "y": "independent"}}
    },
    {
      "width": 493, "height": 379,
      "title": {"text": "(b) Cumulative average FES", "offset": 6},
      "layer": [
        {
          "data": {"name": "b"},
          "mark": {"type": "line", "interpolate": "monotone", "strokeWidth": 2.5, "clip": true},
          "encoding": {
            "x": {"field": "x", "type": "quantitative", "scale": {"domain": [0, 300], "nice": false, "zero": false}, "axis": {"values": [0,25,50,75,100,125,150,175,200,225,250,275,300], "labelExpr": "datum.value % 50 == 0 ? datum.label : ''", "title": null}},
            "y": {"field": "y", "type": "quantitative", "scale": {"domain": [-50, 800], "nice": false, "zero": false}, "axis": {"values": [0,100,200,300,400,500,600,700,800], "labels": false, "title": null}},
            "color": {"field": "t", "type": "quantitative", "scale": {"domain": [0, 10], "interpolate": "rgb", "range": ["#000000","#510096","#7202f3","#8c07f3","#a11096","#b42000","#c63700","#d55700","#e48300","#f2ba00","#ffff00"]},
              "legend": {"orient": "right", "offset": 11, "padding": 0, "direction": "vertical", "gradientLength": 379, "gradientThickness": 25, "gradientStrokeColor": "black", "gradientStrokeWidth": 1, "values": [0,2,4,6,8,10], "labelFontSize": 22, "labelOffset": 11, "labelOverlap": false, "title": "time (µs)", "titleOrient": "right", "titleAnchor": "middle", "titleFontSize": 21, "titleFontWeight": "bold", "titlePadding": -3,
                "encode": {"title": {"update": {"angle": {"value": 270}, "baseline": {"value": "top"}}}, "labels": {"update": {"baseline": {"value": "middle"}}}}}},
            "detail": {"field": "t", "type": "quantitative"}
          }
        },
        {
          "data": {"values": [{}]},
          "mark": {"type": "point", "opacity": 0},
          "encoding": {
            "x": {"datum": 0, "type": "quantitative", "axis": {"orient": "top", "values": [0,25,50,75,100,125,150,175,200,225,250,275,300], "labels": false, "title": null}},
            "y": {"datum": 0, "type": "quantitative", "axis": {"orient": "right", "values": [0,100,200,300,400,500,600,700,800], "labels": false, "title": null}}
          }
        }
      ],
      "resolve": {"axis": {"x": "independent", "y": "independent"}}
    },
    {
      "width": 493, "height": 379,
      "title": {"text": "(c) Reweighted FES", "offset": -4},
      "layer": [
        {
          "data": {"name": "c"},
          "mark": {"type": "line", "interpolate": "monotone", "strokeWidth": 3, "clip": true},
          "encoding": {
            "x": {"field": "x", "type": "quantitative", "scale": {"domain": [0, 300], "nice": false, "zero": false}, "axis": {"values": [0,25,50,75,100,125,150,175,200,225,250,275,300], "labelExpr": "datum.value % 50 == 0 ? datum.label : ''", "title": "CV"}},
            "y": {"field": "y", "type": "quantitative", "scale": {"domain": [-50, 800], "nice": false, "zero": false}, "axis": {"values": [0,100,200,300,400,500,600,700,800], "labelExpr": "datum.value % 200 == 0 ? datum.label : ''", "title": "Free energy (kJ/mol)"}},
            "color": {"field": "s", "type": "nominal", "scale": {"domain": ["0","2","4","6","7","8"], "range": ["#c080ff","#1a8cff","#00e600","#ffd700","#ffa320","#ff0000"]},
              "legend": {"orient": "none", "legendX": 405, "legendY": 9, "title": null, "padding": 0, "symbolType": "M-2.95,0H2.95", "symbolSize": 400, "symbolStrokeWidth": 3, "labelAlign": "right", "labelOffset": -55, "labelFontSize": 20, "labelLimit": 400, "rowPadding": 0.7, "labelExpr": "datum.label == '0' ? 'start rw from 0 µs' : 'from ' + datum.label + ' µs'"}}
          }
        },
        {
          "data": {"values": [{}]},
          "mark": {"type": "point", "opacity": 0},
          "encoding": {
            "x": {"datum": 0, "type": "quantitative", "axis": {"orient": "top", "values": [0,25,50,75,100,125,150,175,200,225,250,275,300], "labels": false, "title": null}},
            "y": {"datum": 0, "type": "quantitative", "axis": {"orient": "right", "values": [0,100,200,300,400,500,600,700,800], "labels": false, "title": null}}
          }
        }
      ],
      "resolve": {"axis": {"x": "independent", "y": "independent"}}
    },
    {
      "width": 493, "height": 379,
      "title": {"text": "(d) Comparison", "offset": 6},
      "layer": [
        {
          "data": {"name": "d"},
          "mark": {"type": "area", "interpolate": "monotone", "clip": true},
          "encoding": {
            "x": {"field": "x", "type": "quantitative", "scale": {"domain": [0, 300], "nice": false, "zero": false}, "axis": {"values": [0,25,50,75,100,125,150,175,200,225,250,275,300], "labelExpr": "datum.value % 50 == 0 ? datum.label : ''", "title": "CV"}},
            "y": {"field": "lo", "type": "quantitative", "scale": {"domain": [-50, 800], "nice": false, "zero": false}, "axis": {"values": [0,100,200,300,400,500,600,700,800], "labels": false, "title": null}},
            "y2": {"field": "hi"},
            "fill": {"field": "s", "type": "nominal", "scale": {"domain": ["7","6"], "range": ["#f5c6b1","#a9d7e7"]}, "legend": null}
          }
        },
        {
          "data": {"name": "d"},
          "transform": [{"filter": "datum.s == '6'"}],
          "mark": {"type": "line", "interpolate": "monotone", "strokeWidth": 1.6, "clip": true},
          "encoding": {
            "x": {"field": "x", "type": "quantitative", "axis": null},
            "y": {"field": "y", "type": "quantitative", "axis": null},
            "color": {"field": "s", "type": "nominal", "scale": {"domain": ["7","6","avg"], "range": ["#d95f2a","#3399ff","#000000"]},
              "legend": {"orient": "none", "legendX": 371, "legendY": 11, "title": null, "padding": 0, "symbolType": "M-2.95,0H2.95", "symbolSize": 400, "symbolStrokeWidth": 1.6, "labelAlign": "right", "labelOffset": -54, "labelFontSize": 20, "labelLimit": 400, "rowPadding": 0.5, "labelExpr": "datum.label == 'avg' ? 'Cumulative average FES' : 'rw FES from ' + datum.label + ' µs'"}}
          }
        },
        {
          "data": {"name": "d"},
          "transform": [{"filter": "datum.s == '7'"}],
          "mark": {"type": "line", "interpolate": "monotone", "strokeWidth": 1.6, "clip": true},
          "encoding": {
            "x": {"field": "x", "type": "quantitative", "axis": null},
            "y": {"field": "y", "type": "quantitative", "axis": null},
            "color": {"field": "s", "type": "nominal"}
          }
        },
        {
          "data": {"name": "b"},
          "transform": [{"filter": "datum.t == 10"}],
          "mark": {"type": "line", "interpolate": "monotone", "strokeWidth": 1.8, "clip": true},
          "encoding": {
            "x": {"field": "x", "type": "quantitative", "axis": null},
            "y": {"field": "y", "type": "quantitative", "axis": null},
            "color": {"datum": "avg", "type": "nominal"}
          }
        },
        {
          "data": {"values": [{}]},
          "mark": {"type": "point", "opacity": 0},
          "encoding": {
            "x": {"datum": 0, "type": "quantitative", "axis": {"orient": "top", "values": [0,25,50,75,100,125,150,175,200,225,250,275,300], "labels": false, "title": null}},
            "y": {"datum": 0, "type": "quantitative", "axis": {"orient": "right", "values": [0,100,200,300,400,500,600,700,800], "labels": false, "title": null}}
          }
        }
      ],
      "resolve": {"axis": {"x": "independent", "y": "independent"}}
    }
  ]
}
